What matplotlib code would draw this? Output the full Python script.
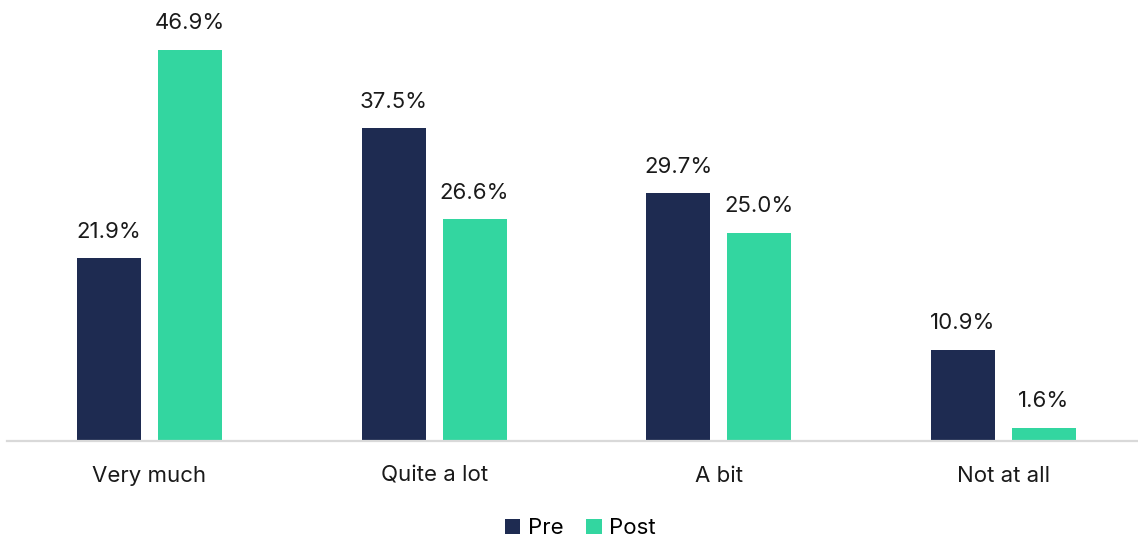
import numpy as np
import matplotlib.pyplot as plt

plt.rcParams['font.family'] = ['Inter', 'DejaVu Sans']

categories = ['Very much', 'Quite a lot', 'A bit', 'Not at all']
pre = [21.9, 37.5, 29.7, 10.9]
post = [46.9, 26.6, 25.0, 1.6]

navy = '#1e2b51'
green = '#33d6a0'

fig = plt.figure(figsize=(11.38, 5.38), dpi=100)
ax = fig.add_axes([0.0063, 0.1803, 1.0006, 0.8197])

x = np.arange(len(categories))
w = 0.225
off = 0.142
b1 = ax.bar(x - off, pre, w, color=navy, label='Pre', zorder=2)
b2 = ax.bar(x + off, post, w, color=green, label='Post', zorder=2)

# value labels above each bar
for bars, vals in [(b1, pre), (b2, post)]:
    for r, v in zip(bars, vals):
        ax.text(r.get_x() + r.get_width() / 2, v + 2.0, f'{v:.1f}%',
                ha='center', va='bottom', fontsize=16, color='#1a1a1a')

ax.set_xlim(-0.5, len(categories) - 0.5)
ax.set_ylim(0, 52.9)
ax.set_xticks(x)
ax.set_xticklabels(categories, fontsize=16, color='#1a1a1a')
ax.tick_params(axis='x', length=0, pad=18)
ax.set_yticks([])
for s in ['top', 'right', 'left']:
    ax.spines[s].set_visible(False)
ax.spines['bottom'].set_color('#d9d9d9')
ax.spines['bottom'].set_linewidth(1.6)

fig.legend(handles=[b1, b2], labels=['Pre', 'Post'], loc='center',
           bbox_to_anchor=(0.51, 0.018), ncol=2, frameon=False,
           fontsize=16, handlelength=0.7, handleheight=0.7,
           handletextpad=0.35, columnspacing=1.0)

fig.savefig('out.png', dpi=100)
